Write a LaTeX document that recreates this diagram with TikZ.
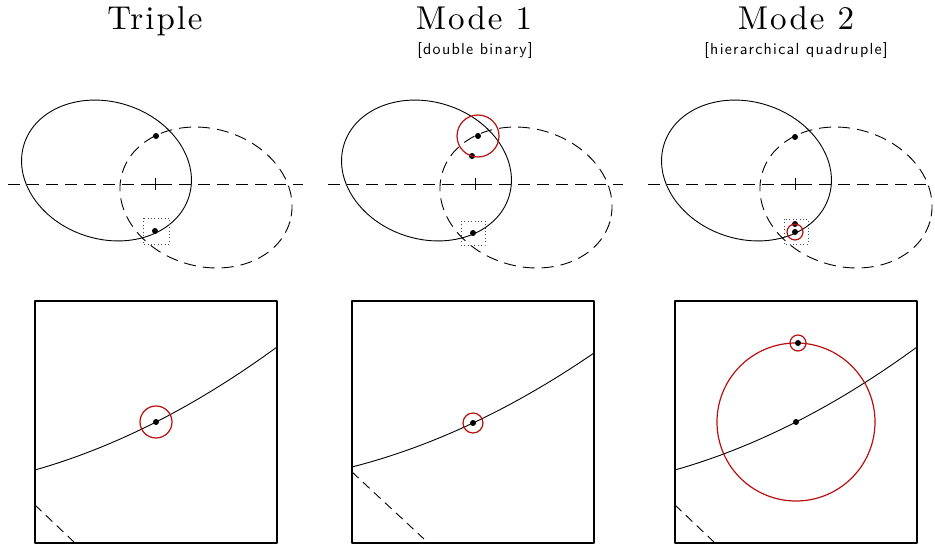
\documentclass[tikz,border=0pt]{standalone}
\usepackage{fontspec}
\newfontfamily\ttlfont[LetterSpace=6]{lmroman10-regular.otf}
\newfontfamily\subfont[LetterSpace=8]{lmsans10-regular.otf}
\definecolor{orbred}{RGB}{185,15,15}

\begin{document}
\begin{tikzpicture}[x=1pt, y=-1pt, line join=round,
   orb/.style={line width=0.9pt},
   orbd/.style={line width=0.9pt, dash pattern=on 12pt off 7pt},
   zsq/.style={line width=0.8pt, dash pattern=on 0.8pt off 2.6pt, black!70},
   zbox/.style={line width=1.3pt},
   rc/.style={draw=orbred, line width=1.2pt},
   ttl/.style={font=\ttlfont\fontsize{33}{36}\selectfont, anchor=base},
   sub/.style={font=\subfont\fontsize{16}{18}\selectfont, anchor=base}]
  \useasboundingbox (0,0) rectangle (935,548);
  \node[ttl] (tri) at (155,30) {Triple};
  \node[ttl] (m1) at (474,30) {Mode 1};
  \node[ttl] (m2) at (796,30) {Mode 2};
  \node[sub] (m1s) at (475,55) {[double binary]};
  \node[sub] (m2s) at (796,55) {[hierarchical quadruple]};
  \foreach \ox/\ax in {0/303, 320/623, 640/933}{
    \draw[orbd] (\ox+8,184) -- (\ax,184);
    \draw[orb] (\ox+149,184) -- (\ox+161,184) (\ox+155,178) -- (\ox+155,190);
    \draw[orb, rotate around={-18:(\ox+106.5,170.5)}] (\ox+106.5,170.5) ellipse [x radius=86.5, y radius=68.5];
    \draw[orbd, rotate around={-16:(\ox+206,197.5)}] (\ox+206,197.5) ellipse [x radius=87.3, y radius=68.9];
  }
  \draw[zsq] (143,218) rectangle (169,244);
  \draw[zsq] (461,221) rectangle (485,245);
  \draw[zsq] (784,219) rectangle (808,244);
  \fill (156,136) circle (3) (155,231) circle (3);
  \fill (478,136) circle (3) (472,156) circle (3) (473,233) circle (3);
  \fill (795,137) circle (3) (795,224) circle (3) (795,232) circle (3);
  \draw[rc] (478,136) circle (21);
  \draw[rc] (795,232) circle (8);
  \foreach \bx/\yl/\ym/\yr/\da/\db/\dc in {35/470/422/347/505/75/543, 352/467/423/353/472/424/539, 675/470/422/347/505/715/543}{
    \pgfmathsetmacro\cy{(4*\ym-\yl-\yr)/2}
    \draw[zbox] (\bx,301) rectangle (\bx+242,543);
    \draw[orb] (\bx,\yl) .. controls ({\bx+80.7},{\yl+2/3*(\cy-\yl)}) and ({\bx+161.3},{\yr+2/3*(\cy-\yr)}) .. (\bx+242,\yr);
    \draw[orb, dash pattern=on 9pt off 6pt] (\bx,\da) -- (\db,\dc);
    \fill (\bx+121,\ym) circle (3);
  }
  \draw[rc] (156,422) circle (16);
  \draw[rc] (473,423) circle (10);
  \draw[rc] (796,422) circle (79);
  \draw[rc] (798,343) circle (8);
  \fill (798,343) circle (3);
\end{tikzpicture}
\end{document}
